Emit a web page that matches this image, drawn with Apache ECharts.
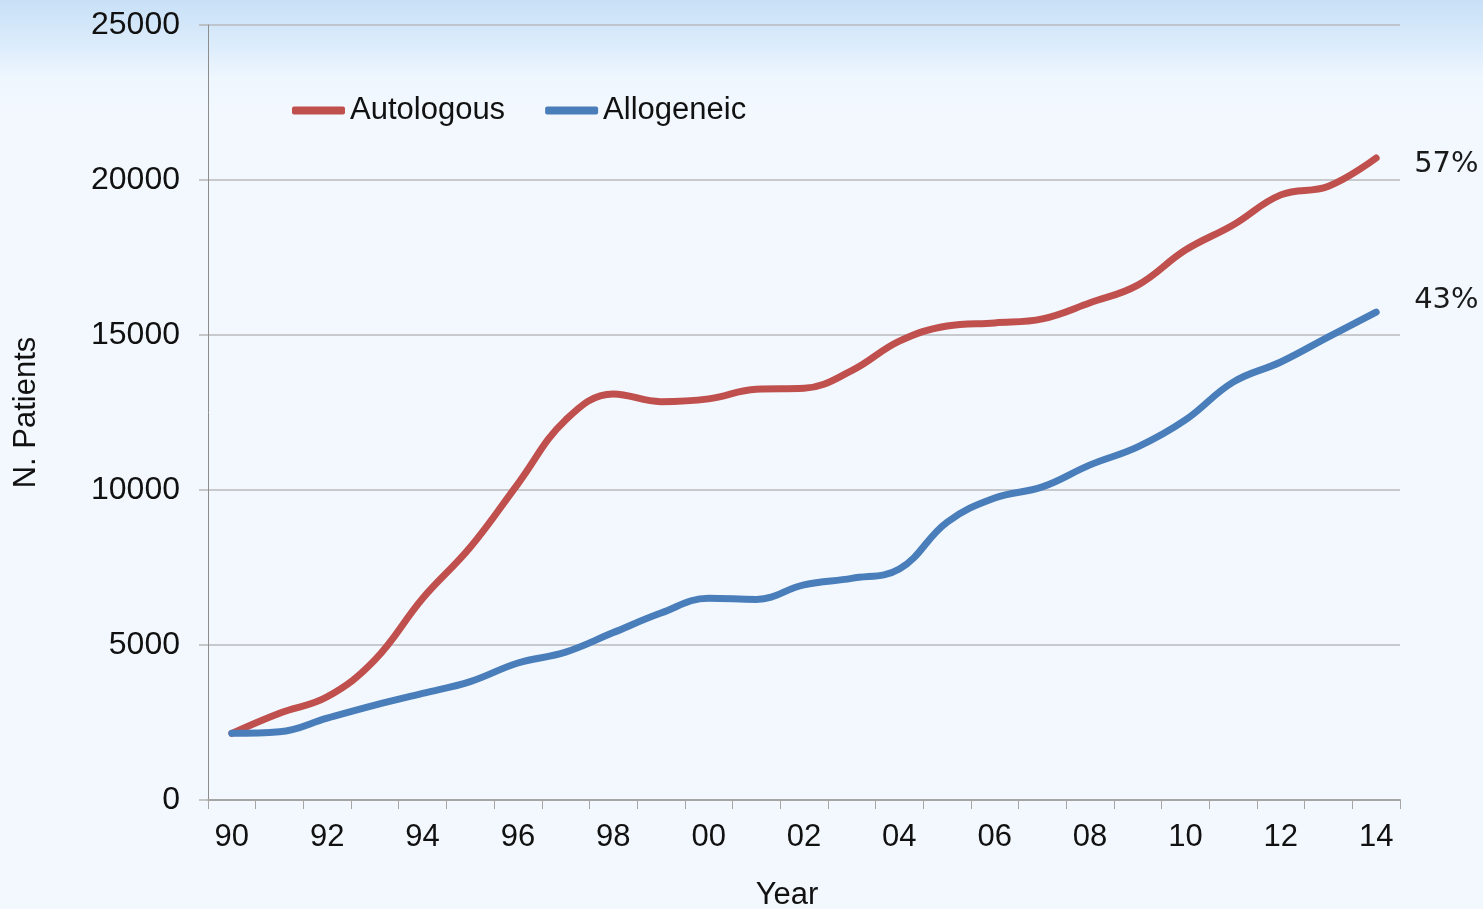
<!DOCTYPE html>
<html>
<head>
<meta charset="utf-8">
<title>N. Patients by year</title>
<script src="https://cdn.jsdelivr.net/npm/echarts@6/dist/echarts.min.js"></script>
<style>
  html, body { margin: 0; padding: 0; width: 1483px; height: 909px; overflow: hidden; }
  #chart { width: 1483px; height: 909px; }
</style>
</head>
<body>
<div id="chart"></div>
<script>
// Years of transplant activity (two-digit labels)
const years = ['90','91','92','93','94','95','96','97','98','99',
               '00','01','02','03','04','05','06','07','08','09',
               '10','11','12','13','14'];

// Patients per year
const autologous = [2150, 2800, 3330, 4520, 6500, 8150, 10200, 12260, 13100, 12850,
                    12940, 13250, 13280, 13850, 14800, 15290, 15390, 15520, 16040, 16610,
                    17740, 18550, 19520, 19800, 20710];
const allogeneic = [2150, 2200, 2640, 3060, 3440, 3820, 4420, 4770, 5400, 6030,
                    6510, 6470, 6940, 7150, 7450, 8960, 9740, 10100, 10810, 11390,
                    12260, 13480, 14130, 14940, 15740];

const yTicks = { min: 0, max: 25000, interval: 5000 };

const FONT = 'Liberation Sans, Arial, sans-serif';
const RED = '#c0504d';
const BLUE = '#4a7ebb';

// Share of the final year's total, shown at the end of each line
function shareLabel(params) {
  const last = years.length - 1;
  const total = autologous[last] + allogeneic[last];
  return Math.round(100 * params.value / total) + '%';
}

const chart = echarts.init(document.getElementById('chart'), null, { renderer: 'canvas' });

chart.setOption({
  animation: false,
  backgroundColor: {
    type: 'linear', x: 0, y: 0, x2: 0, y2: 1,
    colorStops: [
      { offset: 0, color: '#c8e0f7' },
      { offset: 0.05, color: '#dcecfb' },
      { offset: 0.085, color: '#eef6fe' },
      { offset: 0.12, color: '#f2f8fe' },
      { offset: 1, color: '#f2f8fe' }
    ]
  },
  grid: {
    left: 208, right: 83, top: 25, bottom: 109,
    containLabel: false,
    outerBoundsMode: 'none'
  },
  legend: {
    left: 292,
    top: 95,
    padding: 0,
    icon: 'roundRect',
    itemWidth: 53,
    itemHeight: 8,
    itemGap: 40,
    textStyle: { fontFamily: FONT, fontSize: 31, color: '#111' },
    data: ['Autologous', 'Allogeneic']
  },
  xAxis: {
    type: 'category',
    data: years,
    boundaryGap: true,
    name: 'Year',
    nameLocation: 'middle',
    nameGap: 80,
    nameTextStyle: { fontFamily: FONT, fontSize: 31, color: '#111', padding: [0, 34, 0, 0] },
    axisLine: { lineStyle: { color: '#a6a6a6', width: 2 } },
    axisTick: { show: true, interval: 0, length: 9, lineStyle: { color: '#a6a6a6', width: 1 } },
    axisLabel: { interval: 1, margin: 22, fontFamily: FONT, fontSize: 31, color: '#111' },
    splitLine: { show: false }
  },
  yAxis: {
    type: 'value',
    min: yTicks.min,
    max: yTicks.max,
    interval: yTicks.interval,
    name: 'N. Patients',
    nameLocation: 'middle',
    nameGap: 166,
    nameTextStyle: { fontFamily: FONT, fontSize: 31, color: '#111' },
    axisLine: { show: true, lineStyle: { color: '#8c8c8c', width: 1 } },
    axisTick: { show: true, length: 9, lineStyle: { color: '#b5b5b5', width: 1.5 } },
    axisLabel: {
      margin: 28, fontFamily: FONT, fontSize: 32, color: '#111',
      formatter: (v) => String(v)
    },
    splitLine: { show: true, lineStyle: { color: '#b8babd', width: 1.5 } }
  },
  series: [
    {
      name: 'Autologous',
      type: 'line',
      data: autologous,
      smooth: 0.4,
      showSymbol: false,
      symbol: 'none',
      color: RED,
      lineStyle: { color: RED, width: 7, cap: 'round', join: 'round' },
      endLabel: {
        show: true,
        formatter: shareLabel,
        distance: 38,
        offset: [0, 6],
        fontFamily: 'DejaVu Sans, sans-serif',
        fontSize: 29,
        color: '#1a1a1a'
      }
    },
    {
      name: 'Allogeneic',
      type: 'line',
      data: allogeneic,
      smooth: 0.4,
      showSymbol: false,
      symbol: 'none',
      color: BLUE,
      lineStyle: { color: BLUE, width: 7, cap: 'round', join: 'round' },
      endLabel: {
        show: true,
        formatter: shareLabel,
        distance: 38,
        offset: [0, -12],
        fontFamily: 'DejaVu Sans, sans-serif',
        fontSize: 29,
        color: '#1a1a1a'
      }
    }
  ]
});
</script>
</body>
</html>
